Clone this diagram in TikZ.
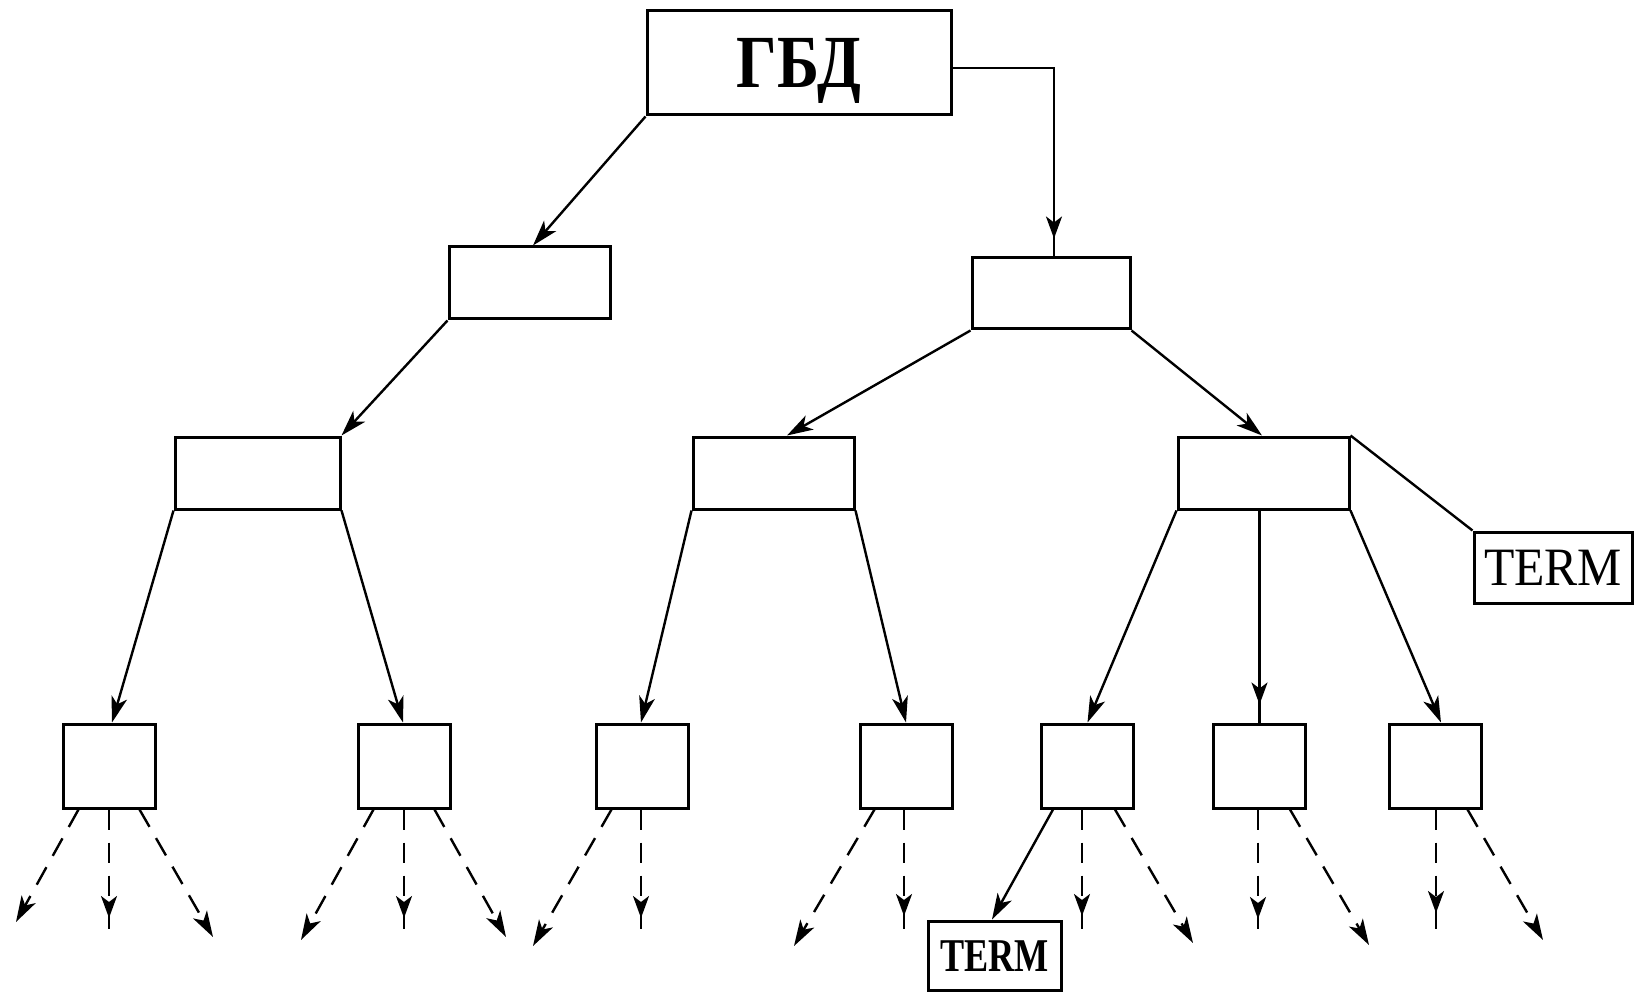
\documentclass[tikz,border=0pt]{standalone}
\usepackage{fontspec}
\setmainfont{Liberation Serif}
\usetikzlibrary{arrows.meta,decorations.markings,calc}
\tikzset{
  box/.style={draw, rectangle, line width=3pt, inner sep=0pt},
  conn/.style={line width=2.4pt},
  tipA/.tip={Stealth[length=26pt,width=16pt,inset=7pt]},
  arr/.style={conn, -tipA},
  setback/.style={conn, postaction={decorate}, decoration={markings,
      mark=at position -18pt with {\arrow{Stealth[length=22pt,width=16pt,inset=6pt]}}}},
  dashline/.style={dash pattern=on 20pt off 13pt},
  darr/.style={arr, dashline},
  dvarr/.style={setback, dashline},
  l3box/.style={box, minimum width=92pt, minimum height=84pt},
}
\begin{document}
\begin{tikzpicture}[x=1pt,y=-1pt]
\useasboundingbox (0,0) rectangle (1634,992);
% boxes
\node[box, minimum width=304pt, minimum height=104pt, text height=50pt, text depth=0pt,
      font=\bfseries\fontsize{75}{75}\selectfont] (gbd) at (799,63) {\scalebox{0.85}[1]{ГБД}};
\node[box, minimum width=161pt, minimum height=72pt] (l1a) at (529.5,283) {};
\node[box, minimum width=158pt, minimum height=71pt] (l1b) at (1051,293.5) {};
\node[box, minimum width=165pt, minimum height=72pt] (l2a) at (257.5,473) {};
\node[box, minimum width=161pt, minimum height=72pt] (l2b) at (773.5,473) {};
\node[box, minimum width=171pt, minimum height=72pt] (l2c) at (1263.5,473) {};
\node[box, minimum width=158pt, minimum height=71pt, text height=36pt, text depth=0pt,
      font=\fontsize{54}{54}\selectfont] (termR) at (1553,567.5) {\scalebox{0.92}[1]{TERM}};
\node[l3box] (l3a) at (109,766) {};
\node[l3box] (l3b) at (404,766) {};
\node[l3box] (l3c) at (642,766) {};
\node[l3box] (l3d) at (906,766) {};
\node[l3box] (l3e) at (1087.5,766) {};
\node[l3box] (l3f) at (1259.5,766) {};
\node[l3box] (l3g) at (1435,766) {};
\node[box, minimum width=133pt, minimum height=69pt, text height=31pt, text depth=0pt,
      font=\bfseries\fontsize{47}{47}\selectfont] (termB) at (994.5,955.5) {\scalebox{0.77}[1]{TERM}};
% free ends
\coordinate (a1) at (16,922);   \coordinate (a2) at (109,936);  \coordinate (a3) at (213,937);
\coordinate (b1) at (301,940);  \coordinate (b2) at (404,936);  \coordinate (b3) at (506,937);
\coordinate (c1) at (533,946);  \coordinate (c2) at (641,936);
\coordinate (d1) at (794,946);  \coordinate (d2) at (904,934);
\coordinate (e2) at (1082,934); \coordinate (e3) at (1193,943);
\coordinate (f2) at (1258,937); \coordinate (f3) at (1369,945);
\coordinate (g2) at (1436,931); \coordinate (g3) at (1543,940);
% solid connectors
\draw[arr] (gbd.south west) -- ([xshift=3.5pt]l1a.north);
\draw[setback] ([yshift=-5pt]gbd.east) -| ([xshift=3pt]l1b.north);
\draw[arr] (l1a.south west) -- (l2a.north east);
\draw[arr] (l1b.south west) -- ([xshift=13.5pt]l2b.north);
\draw[arr] (l1b.south east) -- ([xshift=-1.5pt]l2c.north);
\draw[conn] (l2c.north east) -- (termR.north west);
\draw[arr] (l2a.south west) -- ([xshift=3pt]l3a.north);
\draw[arr] (l2a.south east) -- ([xshift=-1pt]l3b.north);
\draw[arr] (l2b.south west) -- ([xshift=-1pt]l3c.north);
\draw[arr] (l2b.south east) -- (l3d.north);
\draw[arr] (l2c.south west) -- (l3e.north);
\draw[setback] (l3f.north |- l2c.south) -- (l3f.north);
\draw[arr] (l2c.south east) -- ([xshift=6pt]l3g.north);
\draw[arr] ([xshift=13pt]l3e.south west) -- ([xshift=-2.5pt]termB.north);
% dashed connectors
\draw[darr] ([xshift=17pt]l3a.south west) -- (a1);
\draw[dvarr] (a2 |- l3a.south) -- (a2);
\draw[darr] ([xshift=-17pt]l3a.south east) -- (a3);
\draw[darr] ([xshift=17pt]l3b.south west) -- (b1);
\draw[dvarr] (b2 |- l3b.south) -- (b2);
\draw[darr] ([xshift=-17pt]l3b.south east) -- (b3);
\draw[darr] ([xshift=17pt]l3c.south west) -- (c1);
\draw[dvarr] (c2 |- l3c.south) -- (c2);
\draw[darr] ([xshift=16pt]l3d.south west) -- (d1);
\draw[dvarr] (d2 |- l3d.south) -- (d2);
\draw[dvarr] (e2 |- l3e.south) -- (e2);
\draw[darr] ([xshift=-20pt]l3e.south east) -- (e3);
\draw[dvarr] (f2 |- l3f.south) -- (f2);
\draw[darr] ([xshift=-17pt]l3f.south east) -- (f3);
\draw[dvarr] (g2 |- l3g.south) -- (g2);
\draw[darr] ([xshift=-15pt]l3g.south east) -- (g3);
\end{tikzpicture}
\end{document}
